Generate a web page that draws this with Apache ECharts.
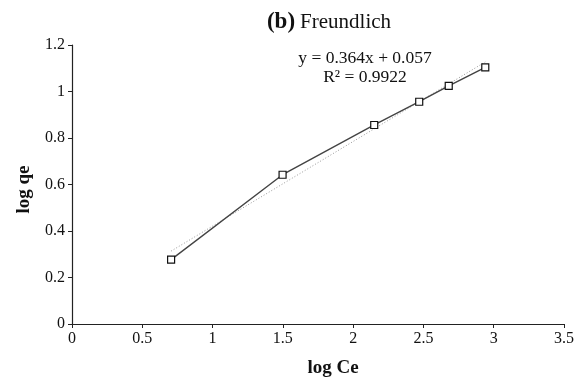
<!DOCTYPE html>
<html>
<head>
<meta charset="utf-8">
<script src="https://cdn.jsdelivr.net/npm/echarts@6/dist/echarts.min.js"></script>
<style>
html, body { margin: 0; padding: 0; background: #fff; }
#chart { width: 578px; height: 379px; }
</style>
</head>
<body>
<div id="chart"></div>
<script>
// measured points (log Ce, log qe)
var logCe = [0.705, 1.498, 2.15, 2.47, 2.68, 2.94];
var logQe = [0.277, 0.642, 0.856, 0.956, 1.024, 1.104];
var xTicks = [0, 0.5, 1, 1.5, 2, 2.5, 3, 3.5];
var yTicks = [0, 0.2, 0.4, 0.6, 0.8, 1, 1.2];
// linear fit from the figure
var slope = 0.364;
var intercept = 0.057;
var r2 = 0.9922;

var font = '"Liberation Serif", "DejaVu Serif", serif';

var points = logCe.map(function (x, i) { return [x, logQe[i]]; });
var xMin = Math.min.apply(null, logCe), xMax = Math.max.apply(null, logCe);
var fit = [[xMin, slope * xMin + intercept], [xMax, slope * xMax + intercept]];

var myChart = echarts.init(document.getElementById('chart'));

var option = {
  backgroundColor: '#fff',
  animation: false,
  title: {
    text: '{b|(b)} {n|Freundlich}',
    left: 324,
    top: 6,
    textAlign: 'center',
    textStyle: {
      fontWeight: 'normal',
      rich: {
        b: { fontFamily: font, fontSize: 23, fontWeight: 'bold', color: '#111' },
        n: { fontFamily: font, fontSize: 21, fontWeight: 'normal', color: '#111' }
      }
    }
  },
  grid: { left: 72, right: 14, top: 45, bottom: 55, containLabel: false, outerBoundsMode: 'none' },
  xAxis: {
    type: 'value',
    min: xTicks[0],
    max: xTicks[xTicks.length - 1],
    interval: 0.5,
    name: 'log Ce',
    nameLocation: 'middle',
    nameGap: 35,
    nameTextStyle: { fontFamily: font, fontSize: 19, fontWeight: 'bold', color: '#111', padding: [0, 0, 0, 30] },
    axisLine: { lineStyle: { color: '#222', width: 1.2 } },
    axisTick: { length: 4, lineStyle: { color: '#222' } },
    axisLabel: { fontFamily: font, fontSize: 16, color: '#111', margin: 7 },
    splitLine: { show: false }
  },
  yAxis: {
    type: 'value',
    min: yTicks[0],
    max: yTicks[yTicks.length - 1],
    interval: 0.2,
    name: 'log qe',
    nameLocation: 'middle',
    nameGap: 38,
    nameTextStyle: { fontFamily: font, fontSize: 19, fontWeight: 'bold', color: '#111', padding: [0, 10, 0, 0] },
    axisLine: { show: true, lineStyle: { color: '#222', width: 1.2 } },
    axisTick: { show: true, length: 4, lineStyle: { color: '#222' } },
    axisLabel: {
      fontFamily: font, fontSize: 16, color: '#111', margin: 7,
      formatter: function (v) { return String(Math.round(v * 10) / 10); }
    },
    splitLine: { show: false }
  },
  series: [
    {
      type: 'line',
      data: fit,
      symbol: 'none',
      lineStyle: { color: '#999', width: 1, type: [1, 2] },
      z: 1
    },
    {
      type: 'line',
      data: points,
      symbol: 'rect',
      symbolSize: 7,
      itemStyle: { color: '#fff', borderColor: '#111', borderWidth: 1.2 },
      lineStyle: { color: '#444', width: 1.4 },
      z: 2
    }
  ],
  graphic: [
    {
      type: 'text',
      x: 365,
      y: 49,
      style: {
        text: 'y = 0.364x + 0.057\nR² = ' + r2,
        font: '17.5px ' + font,
        fill: '#111',
        align: 'center',
        verticalAlign: 'top',
        lineHeight: 19
      }
    }
  ]
};
myChart.setOption(option);
</script>
</body>
</html>
